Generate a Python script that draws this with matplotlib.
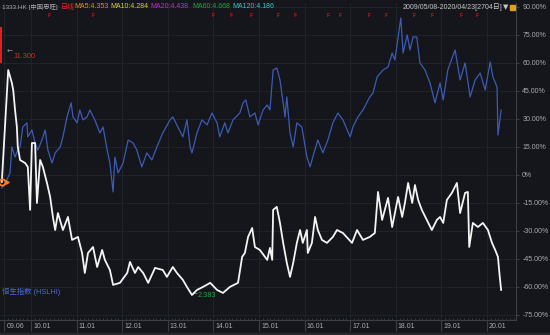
import matplotlib
matplotlib.use("Agg")
import matplotlib.pyplot as plt
from matplotlib.transforms import ScaledTranslation, blended_transform_factory
from matplotlib.patches import Rectangle
import numpy as np

# narrow latin font first, CJK fallback for the Chinese labels
plt.rcParams['font.family'] = ['Liberation Sans', 'Noto Sans CJK SC', 'DejaVu Sans']

# --- data (decimal years, % change since 2009/05/08) ---
stock_t = [2009.36, 2009.50, 2009.58, 2009.61, 2009.65, 2009.69, 2009.71, 2009.76, 2009.87, 2009.93,
           2009.98, 2010.02, 2010.09, 2010.13, 2010.20, 2010.26, 2010.35, 2010.42, 2010.48, 2010.53,
           2010.59, 2010.70, 2010.81, 2010.90, 2011.03, 2011.12, 2011.18, 2011.25, 2011.36, 2011.45,
           2011.56, 2011.62, 2011.73, 2011.80, 2011.95, 2012.11, 2012.17, 2012.28, 2012.35, 2012.46,
           2012.57, 2012.72, 2012.89, 2012.98, 2013.11, 2013.20, 2013.33, 2013.42, 2013.53, 2013.64,
           2013.77, 2013.93, 2014.08, 2014.21, 2014.36, 2014.54, 2014.63, 2014.69, 2014.76, 2014.85,
           2014.91, 2015.02, 2015.18, 2015.24, 2015.29, 2015.31, 2015.39, 2015.46, 2015.53, 2015.61,
           2015.68, 2015.75, 2015.83, 2015.90, 2015.96, 2016.05, 2016.07, 2016.16, 2016.23, 2016.29,
           2016.38, 2016.49, 2016.62, 2016.71, 2016.84, 2017.04, 2017.15, 2017.28, 2017.43, 2017.54,
           2017.61, 2017.70, 2017.83, 2017.92, 2018.05, 2018.14, 2018.20, 2018.27, 2018.36, 2018.42,
           2018.49, 2018.57, 2018.68, 2018.79, 2018.90, 2018.97, 2019.04, 2019.12, 2019.23, 2019.34,
           2019.41, 2019.52, 2019.58, 2019.61, 2019.69, 2019.80, 2019.91, 2020.02, 2020.11, 2020.18,
           2020.24, 2020.28, 2020.31]
stock_pct = [-3.7, 56.2, 49.3, 45.5, 34.8, 25.7, 15.0, 8.0, 6.4, 4.3,
             -18.7, 17.1, 17.1, -15.0, 8.0, 4.3, -4.3, -11.8, -22.5, -29.5,
             -20.4, -29.5, -22.5, -34.8, -33.2, -41.8, -52.5, -41.8, -38.6, -49.3,
             -40.2, -45.5, -50.9, -58.9, -57.8, -52.5, -46.6, -52.5, -49.3, -52.5,
             -57.8, -49.8, -50.9, -54.6, -49.3, -52.5, -56.2, -60.0, -64.3, -61.6,
             -60.0, -57.8, -61.6, -63.2, -60.0, -57.8, -43.9, -41.8, -33.2, -28.4,
             -38.6, -40.2, -45.5, -39.1, -45.5, -18.7, -17.1, -25.7, -36.4, -47.1,
             -54.6, -47.1, -36.4, -29.5, -36.4, -29.5, -41.8, -36.4, -22.5, -29.5,
             -34.8, -36.4, -33.2, -29.5, -31.1, -36.4, -29.5, -34.8, -33.2, -31.1,
             -9.1, -24.1, -12.3, -27.9, -11.8, -22.5, -15.0, -4.3, -15.0, -5.4,
             -13.4, -18.7, -24.1, -29.5, -24.1, -22.5, -25.7, -13.4, -9.6, -4.3,
             -20.4, -9.6, -9.1, -38.6, -25.7, -27.9, -25.7, -29.5, -36.4, -40.2,
             -43.9, -54.6, -61.6]

index_t = [2009.36, 2009.47, 2009.54, 2009.58, 2009.65, 2009.71, 2009.76, 2009.82, 2009.91, 2009.93,
           2010.02, 2010.09, 2010.15, 2010.24, 2010.31, 2010.37, 2010.46, 2010.53, 2010.64, 2010.70,
           2010.79, 2010.88, 2010.92, 2011.01, 2011.07, 2011.14, 2011.23, 2011.29, 2011.40, 2011.51,
           2011.58, 2011.67, 2011.73, 2011.80, 2011.84, 2011.91, 2012.02, 2012.13, 2012.24, 2012.32,
           2012.43, 2012.54, 2012.65, 2012.76, 2012.89, 2013.05, 2013.11, 2013.22, 2013.33, 2013.42,
           2013.49, 2013.53, 2013.64, 2013.75, 2013.86, 2013.97, 2014.08, 2014.14, 2014.25, 2014.32,
           2014.43, 2014.58, 2014.65, 2014.71, 2014.80, 2014.91, 2014.98, 2015.09, 2015.18, 2015.24,
           2015.31, 2015.39, 2015.46, 2015.53, 2015.57, 2015.61, 2015.68, 2015.75, 2015.83, 2015.94,
           2016.05, 2016.12, 2016.18, 2016.29, 2016.40, 2016.51, 2016.62, 2016.73, 2016.84, 2017.00,
           2017.06, 2017.17, 2017.28, 2017.43, 2017.50, 2017.59, 2017.72, 2017.83, 2017.92, 2017.98,
           2018.11, 2018.16, 2018.25, 2018.31, 2018.38, 2018.46, 2018.53, 2018.64, 2018.75, 2018.86,
           2018.97, 2019.04, 2019.14, 2019.30, 2019.41, 2019.52, 2019.63, 2019.74, 2019.85, 2019.96,
           2020.07, 2020.13, 2020.22, 2020.24, 2020.31]
index_pct = [-7.0, -2.7, 1.1, 15.0, 9.6, 13.4, 15.0, 25.7, 27.9, 20.4,
             24.1, 17.1, 13.4, 18.7, 24.1, 13.4, 6.4, 11.8, 15.0, 20.4,
             31.1, 38.6, 31.1, 27.9, 34.8, 29.5, 31.1, 34.8, 29.5, 22.5,
             25.7, 13.4, 6.4, -9.1, 9.6, 1.1, 6.4, 18.7, 17.1, 13.4,
             4.3, 11.8, 8.0, 15.0, 22.5, 29.5, 31.1, 25.7, 20.4, 29.5,
             15.0, 11.8, 22.5, 29.5, 26.8, 33.2, 27.9, 20.4, 27.9, 22.5,
             29.5, 33.2, 38.6, 40.2, 31.1, 33.2, 26.8, 34.8, 37.5, 34.8,
             56.2, 57.3, 50.9, 38.6, 31.1, 41.8, 22.5, 15.0, 27.9, 25.7,
             9.6, 4.3, 9.6, 18.7, 11.8, 18.7, 27.9, 33.2, 29.5, 20.4,
             25.7, 31.1, 34.8, 41.8, 43.9, 52.5, 56.2, 57.8, 65.3, 61.6,
             84.1, 65.3, 75.0, 67.0, 73.9, 73.9, 60.0, 56.2, 49.3, 38.6,
             49.3, 40.2, 56.2, 67.0, 50.9, 60.0, 41.8, 50.9, 54.6, 45.5,
             60.5, 52.5, 47.1, 21.4, 34.8]

year_ticks = [2009.414, 2010, 2011, 2012, 2013, 2014, 2015, 2016, 2017, 2018, 2019, 2020]
year_labels = ['09.06', '10.01', '11.01', '12.01', '13.01', '14.01', '15.01',
               '16.01', '17.01', '18.01', '19.01', '20.01']
pct_ticks = [-75, -60, -45, -30, -15, 0, 15, 30, 45, 60, 75, 90]

event_t = [2010.39, 2011.36, 2013.99, 2014.39, 2014.82, 2015.42, 2015.79, 2016.51,
           2016.78, 2017.41, 2017.79, 2018.40, 2018.79, 2019.43, 2019.78]

first_bar = (2009.34, 60.0, 79.3)   # date, low %, high %
max_label = (2009.46, 66.0, '11.300')
min_label = '2.383'

ma_items = [('日线', '#e8262a', 61), ('MA5:4.353', '#e3901f', 74), ('MA10:4.284', '#d8d620', 110),
            ('MA20:4.438', '#d424d0', 150), ('MA60:4.668', '#22a82a', 192),
            ('MA120:4.186', '#36c8c8', 232)]

BG = '#14161b'
GRID = '#21252c'
TXT = '#a9abb0'
FS = 5
W, H = 550, 335

fig = plt.figure(figsize=(5.5, 3.35), dpi=100, facecolor=BG)
ax = fig.add_axes([0, 15 / H, 516 / W, 317 / H], facecolor=BG)
ax.set_xlim(2009.32, 2020.636)
ax.set_ylim(-77.7, 92.1)

ax.plot(index_t, index_pct, color='#3d5bb5', lw=0.9, zorder=3)
ax.plot(stock_t, stock_pct, color='#f4f4f4', lw=1.3, zorder=4)

# start marker
ax.plot(stock_t[0], stock_pct[0], 'o', mfc='none', mec='#ff7c1c', ms=4.5, mew=1.3, zorder=5)
ax.plot(stock_t[0], stock_pct[0], '>', color='#ff7c1c', ms=2.5, zorder=5,
        transform=ax.transData + ScaledTranslation(5 / 100, 0, fig.dpi_scale_trans))

# first candle
ax.bar(first_bar[0], first_bar[2] - first_bar[1], bottom=first_bar[1], width=0.045,
       color='#e02020', zorder=5)

# max / min labels
ax.text(max_label[0], max_label[1], '←', color='#9a9a9a', fontsize=FS, va='center', ha='left',
        family='DejaVu Sans')
ax.text(max_label[0], max_label[1], max_label[2], color='#d82a2a', fontsize=FS + 0.3, va='top',
        ha='left', transform=ax.transData + ScaledTranslation(7 / 100, -1 / 100, fig.dpi_scale_trans))
imin = int(np.argmin(stock_pct))
ax.text(stock_t[imin], stock_pct[imin], '←', color='#9a9a9a', fontsize=FS, va='center', ha='left',
        family='DejaVu Sans')
ax.text(stock_t[imin], stock_pct[imin], min_label, color='#22a040', fontsize=FS + 0.3, va='center',
        ha='left', transform=ax.transData + ScaledTranslation(6 / 100, -1 / 100, fig.dpi_scale_trans))

# event flags along the top
trans = blended_transform_factory(ax.transData, ax.transAxes)
for t in event_t:
    ax.text(t, 0.962, 'F', color='#d01818', fontsize=3.4, fontweight='bold',
            ha='center', va='center', transform=trans)

ax.text(0.004, 0.087, '恒生指数 (HSLHI)', color='#4a6ad6', fontsize=FS + 0.3, transform=ax.transAxes,
        va='center', ha='left')

# axes styling
for s in ['left', 'top']:
    ax.spines[s].set_visible(False)
for s in ['right', 'bottom']:
    ax.spines[s].set_color('#3a3e46')
    ax.spines[s].set_linewidth(0.8)

ax.yaxis.tick_right()
ax.set_yticks(pct_ticks)
ax.set_yticklabels(['0%' if v == 0 else f'{v:.2f}%' for v in pct_ticks])
ax.tick_params(axis='y', colors='#3a3e46', labelcolor=TXT, labelsize=FS, length=2.5, pad=2)

ax.set_xticks(year_ticks)
ax.set_xticklabels(year_labels)
ax.set_xticks(np.arange(2009.5, 2020.6, 1 / 12), minor=True)
ax.tick_params(axis='x', which='major', colors='#3a3e46', labelcolor=TXT, labelsize=FS,
               length=8, width=0.8, direction='out', pad=-6)
ax.tick_params(axis='x', which='minor', colors='#3a3e46', length=1.5, direction='in')
for lab in ax.get_xticklabels():
    lab.set_horizontalalignment('left')
    lab.set_transform(lab.get_transform() + ScaledTranslation(2 / 100, 0, fig.dpi_scale_trans))

ax.grid(True, which='major', color=GRID, lw=0.6)
ax.set_axisbelow(True)

# header row
fig.text(2 / W, 1 - 7 / H, '1333.HK [中国忠旺]', color=TXT, fontsize=FS - 0.4, va='center', ha='left')
for label, col, x in ma_items:
    fig.text(x / W, 1 - 7 / H, label, color=col, fontsize=FS, va='center', ha='left')
fig.text(502 / W, 1 - 7 / H, '2009/05/08-2020/04/23[2704日]', color='#c4c4c4', fontsize=FS,
         va='center', ha='right')
fig.text(503 / W, 1 - 7 / H, '▼', color='#c4c4c4', fontsize=FS, va='center', ha='left',
         family='DejaVu Sans')
fig.patches.append(Rectangle((510 / W, 1 - 10 / H), 5 / W, 5 / H, transform=fig.transFigure,
                             color='#e0a020'))

# bottom strip
fig.patches.append(Rectangle((0, 0), 1, 2 / H, transform=fig.transFigure, color='#262930'))

fig.savefig('out.png', dpi=100, facecolor=BG)
